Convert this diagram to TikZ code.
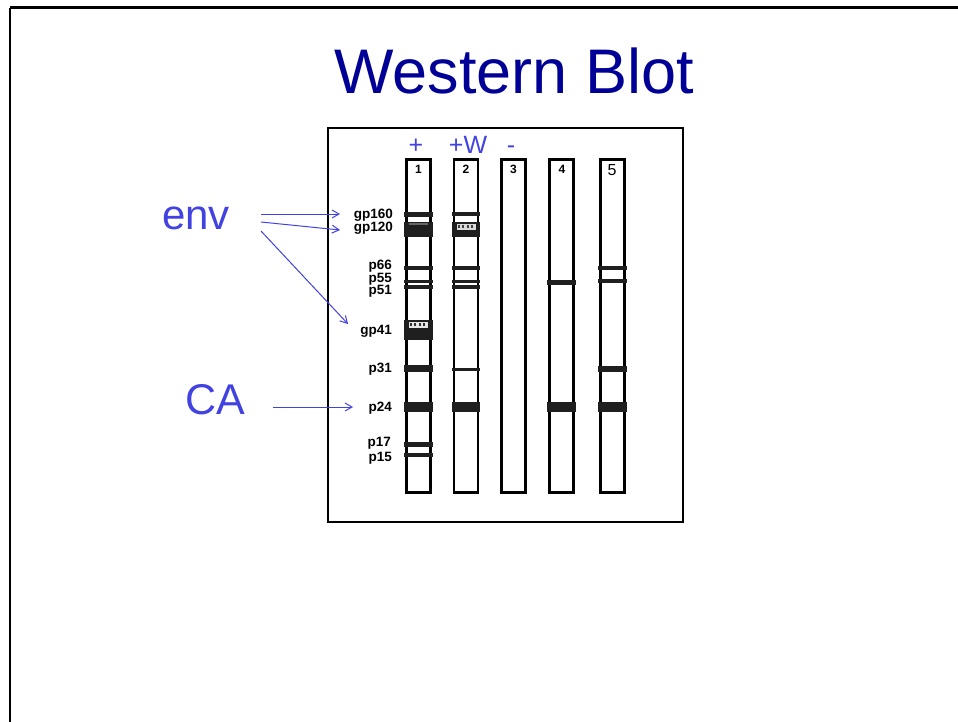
\documentclass[tikz,border=0pt]{standalone}
\usepackage{fontspec}
\setmainfont{Liberation Sans}
\usetikzlibrary{arrows.meta}
\definecolor{navy}{RGB}{0,0,150}
\definecolor{lblue}{RGB}{66,66,226}
\begin{document}
\begin{tikzpicture}[x=1pt,y=-1pt,
  strip/.style={draw=black,line width=2.6pt,minimum width=24pt,minimum height=333pt,inner sep=0pt,fill=white},
  band/.style={fill=black!88},
  mw/.style={font=\bfseries\fontsize{13.5}{13.5}\selectfont,anchor=east,inner sep=0pt},
  num/.style={font=\bfseries\fontsize{12}{12}\selectfont,inner sep=0pt},
  bluetxt/.style={text=lblue,inner sep=0pt},
  barrow/.style={draw=lblue,line width=1pt,-{Straight Barb[length=7pt,width=8pt]}}]
\useasboundingbox (0,0) rectangle (958,721);
\fill[white] (0,0) rectangle (958,721);
% slide frame
\begin{scope}
\clip (0,0) rectangle (958,721);
\draw[line width=2.6pt] (10,7.5) -- (980,7.5);
\draw[line width=2.6pt] (10,7.5) -- (10,740);
\end{scope}
% title
\node[text=navy,font=\fontsize{63}{63}\selectfont,anchor=base,inner sep=0pt] (title) at (514,93) {Western Blot};
% blot box
\draw[line width=2.8pt] (328,128) rectangle (683,522);
% strips
\node[strip] (s1) at (418.5,326) {};
\node[strip] (s2) at (466,326) {};
\node[strip] (s3) at (513.5,326) {};
\node[strip] (s4) at (561.5,326) {};
\node[strip] (s5) at (612.5,326) {};
\node[num] (n1) at (418.5,169) {1};
\node[num] (n2) at (466,169) {2};
\node[num] (n3) at (513.5,169) {3};
\node[num] (n4) at (562,169) {4};
\node[num,font=\fontsize{16}{16}\selectfont] (n5) at (612,170) {5};
% bands strip 1
\foreach \a/\b in {212/217,222/237,266/270,280/283,285/289,320/340,365/372,402/412,442/447,453/457}
  \fill[band] ([xshift=-1pt]s1.west |- 0,\a) rectangle ([xshift=1pt]s1.east |- 0,\b);
% speckle on gp41 and gp120
\fill[white!90!black] (409,322) rectangle (428,328);
\foreach \p in {410,414,419,423}
  \fill[black!80] (\p,323) rectangle (\p+2,326);
\fill[black!60] (409,223) rectangle (428,225);
% bands strip 2
\foreach \a/\b in {212/216,222/237,266/270,280/283,285/289,368/370.5,402/412}
  \fill[band] ([xshift=-1pt]s2.west |- 0,\a) rectangle ([xshift=1pt]s2.east |- 0,\b);
\fill[white!85!black] (457,224) rectangle (476,230);
\foreach \p in {458,462,467,471}
  \fill[black!75] (\p,225) rectangle (\p+2,228);
% bands strip 4
\foreach \a/\b in {280/285,402/412}
  \fill[band] ([xshift=-1pt]s4.west |- 0,\a) rectangle ([xshift=1pt]s4.east |- 0,\b);
% bands strip 5
\foreach \a/\b in {266/270,279/283,366/372,402/412}
  \fill[band] ([xshift=-1pt]s5.west |- 0,\a) rectangle ([xshift=1pt]s5.east |- 0,\b);
% molecular weight labels
\node[mw] (gp160) at (393,215) {gp160};
\node[mw] (gp120) at (393,228) {gp120};
\node[mw] (p66) at (392,266) {p66};
\node[mw] (p55) at (392,279) {p55};
\node[mw] (p51) at (392,291) {p51};
\node[mw] (gp41) at (392,331) {gp41};
\node[mw] (p31) at (392,369) {p31};
\node[mw] (p24) at (392,408) {p24};
\node[mw] (p17) at (391,443) {p17};
\node[mw] (p15) at (392,458) {p15};
% sample labels
\node[bluetxt,font=\fontsize{25}{25}\selectfont,anchor=base] (plus) at (416,153) {+};
\node[bluetxt,font=\fontsize{25}{25}\selectfont,anchor=base] (plusw) at (468,153) {+W};
\node[bluetxt,font=\fontsize{25}{25}\selectfont,anchor=base] (minus) at (511,153) {-};
% env / CA
\node[bluetxt,font=\fontsize{42}{42}\selectfont,anchor=base] (env) at (196,229) {env};
\node[bluetxt,font=\fontsize{43}{43}\selectfont,anchor=base] (CA) at (215,414) {CA};
\coordinate (e1) at (261,214);
\coordinate (e2) at (261,222);
\coordinate (e3) at (261,231);
\coordinate (c1) at (273,407);
\coordinate (t1) at (340,214);
\coordinate (t2) at (340,230);
\coordinate (t3) at (348,324);
\coordinate (t4) at (353,407);
\draw[barrow] (e1) -- (t1);
\draw[barrow] (e2) -- (t2);
\draw[barrow] (e3) -- (t3);
\draw[barrow] (c1) -- (t4);
\end{tikzpicture}
\end{document}
